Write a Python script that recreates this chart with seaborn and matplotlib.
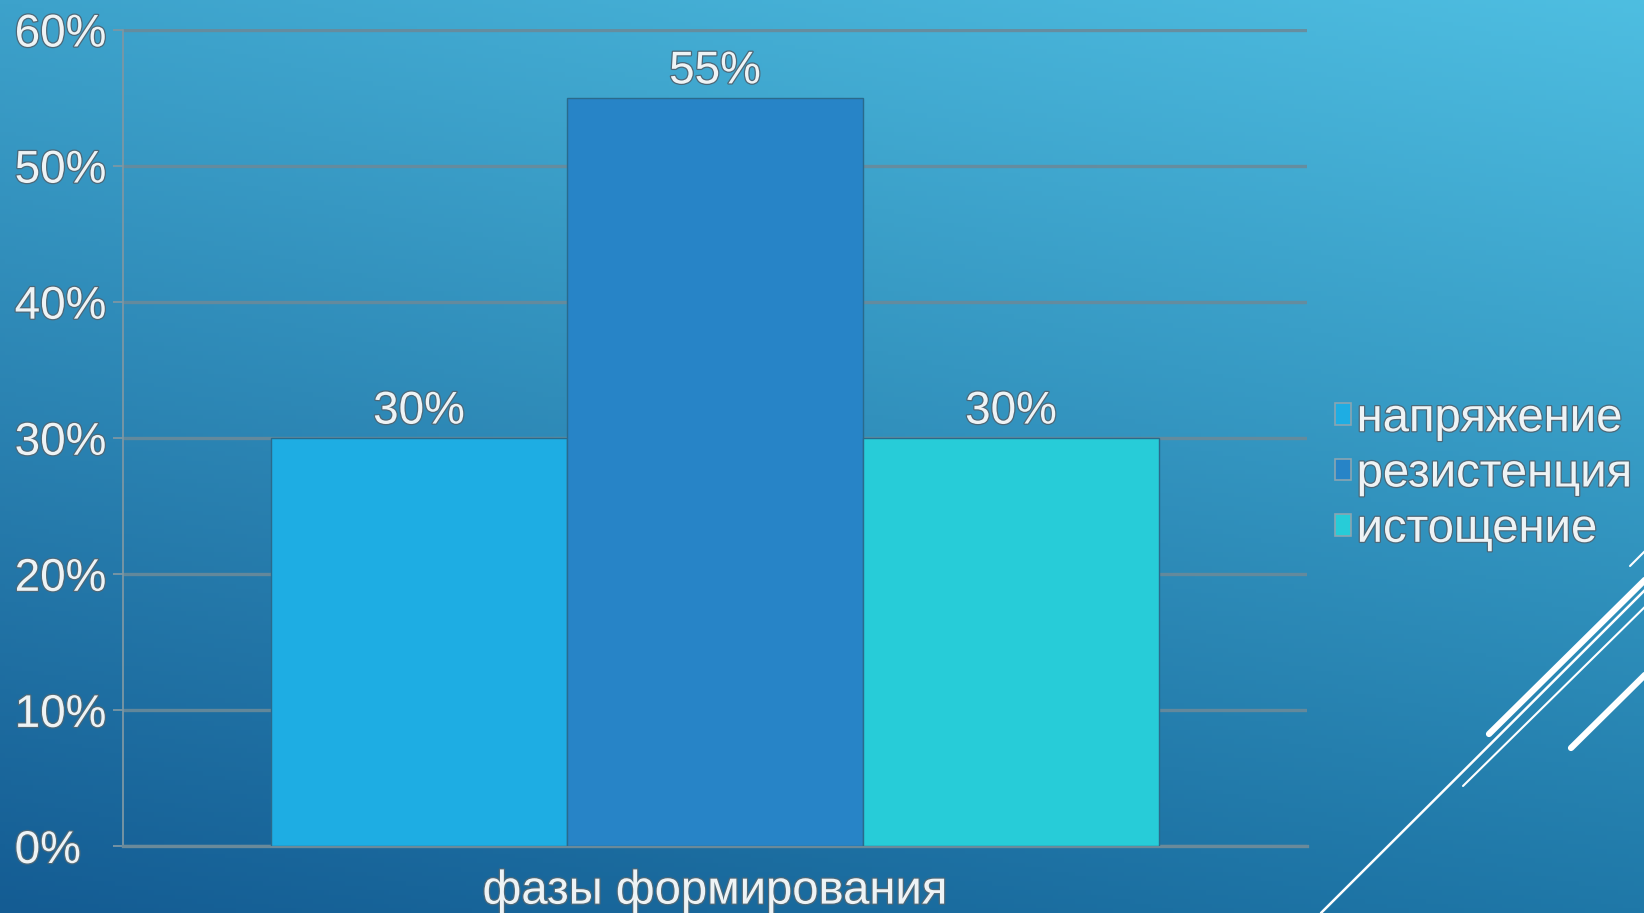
import numpy as np
import pandas as pd
import matplotlib
matplotlib.use("Agg")
import matplotlib.pyplot as plt
import matplotlib.patheffects as pe
from matplotlib.lines import Line2D
from matplotlib.ticker import FuncFormatter, FixedLocator
import seaborn as sns

# ---- data ----
categories = ["фазы формирования"]
stages = ["напряжение", "резистенция", "истощение"]
values = [30, 55, 30]
yticks = [0, 10, 20, 30, 40, 50, 60]
bar_colors = ["#1eade3", "#2784c7", "#27ccd8"]

df = pd.DataFrame({"phase": categories * len(stages), "stage": stages, "value": values})

sns.set_theme(style="white")
plt.rcParams["font.family"] = ["Liberation Sans", "DejaVu Sans"]

W, H = 1644, 913
fig = plt.figure(figsize=(W / 100, H / 100), dpi=100)

# background gradient
bg = fig.add_axes([0, 0, 1, 1], zorder=-10)
tl = np.array([0x3d, 0xa2, 0xcb]) / 255
tr = np.array([0x4e, 0xbe, 0xe1]) / 255
bl = np.array([0x14, 0x5c, 0x93]) / 255
br = np.array([0x1f, 0x78, 0xa8]) / 255
yy, xx = np.mgrid[0:1:200j, 0:1:300j]
img = (tl[None, None] * ((1 - xx) * (1 - yy))[..., None] + tr[None, None] * (xx * (1 - yy))[..., None]
       + bl[None, None] * ((1 - xx) * yy)[..., None] + br[None, None] * (xx * yy)[..., None])
bg.imshow(img, aspect="auto", extent=[0, 1, 0, 1], origin="upper")
bg.set_xlim(0, 1); bg.set_ylim(0, 1)
bg.axis("off")

# decorative lines (figure coords in px)
def px(x, y):
    return x / W, 1 - y / H
for (x0, y0, x1, y1, lw) in [(1489, 734, 1660, 565, 4.5), (1463, 786, 1660, 592, 1.5),
                              (1321, 913, 1660, 575, 1.8), (1571, 748, 1660, 660, 4.5),
                              (1630, 566, 1660, 536, 1.5)]:
    a = px(x0, y0); b = px(x1, y1)
    fig.add_artist(Line2D([a[0], b[0]], [a[1], b[1]], color="white", lw=lw, transform=fig.transFigure))

ax = fig.add_axes([123 / W, 1 - 846 / H, (1307 - 123) / W, (846 - 29.5) / H])
ax.set_facecolor("none")

sns.barplot(data=df, x="phase", y="value", hue="stage", hue_order=stages, palette=bar_colors,
            width=0.75, saturation=1, edgecolor="#2a6a8c", linewidth=1.0, ax=ax, zorder=3)

txt_color = "#eef3f5"
effects = [pe.withStroke(linewidth=1.8, foreground="#4d6878")]

ax.set_ylim(0, 60)
ax.set_xlim(-0.5, 0.5)
ax.yaxis.set_major_locator(FixedLocator(yticks))
ax.yaxis.set_major_formatter(FuncFormatter(lambda v, p: f"{v:.0f}%"))
ax.grid(axis="y", color="#6a8a9a", lw=2.4, alpha=0.9, zorder=0)
ax.set_axisbelow(True)
for s in ["top", "right"]:
    ax.spines[s].set_visible(False)
ax.spines["left"].set_color("#7c97a4")
ax.spines["left"].set_linewidth(1.3)
ax.spines["bottom"].set_color("#6a8a9a")
ax.spines["bottom"].set_linewidth(2.4)

ax.tick_params(axis="y", left=True, length=7, width=1.3, color="#7c97a4", pad=71,
               labelsize=33, labelcolor=txt_color)
for lab in ax.get_yticklabels():
    lab.set_horizontalalignment("left")
    lab.set_path_effects(effects)

ax.set_xticks([0])
ax.set_xticklabels(categories)
ax.tick_params(axis="x", bottom=False, pad=11, labelsize=34, labelcolor=txt_color)
for lab in ax.get_xticklabels():
    lab.set_path_effects(effects)
ax.set_xlabel("")
ax.set_ylabel("")

for cont, v in zip(ax.containers, values):
    labs = ax.bar_label(cont, labels=[f"{v}%"], padding=3, fontsize=33, color=txt_color)
    for t in labs:
        t.set_path_effects(effects)

handles, labels = ax.get_legend_handles_labels()
leg = ax.legend(handles, labels, loc="center left", bbox_to_anchor=(1.008, 0.455), frameon=False,
                fontsize=34, handlelength=0.33, handleheight=0.33, handletextpad=0.12,
                labelspacing=0.24, borderaxespad=0)
for h in leg.legend_handles:
    h.set_edgecolor("#8aa5b2")
    h.set_linewidth(1.2)
for t in leg.get_texts():
    t.set_color(txt_color)
    t.set_path_effects(effects)

fig.savefig("out.png", dpi=100)
